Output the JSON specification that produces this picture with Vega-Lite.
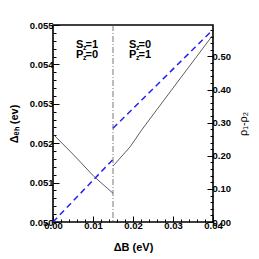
{
  "$schema": "https://vega.github.io/schema/vega-lite/v6.json",
  "width": 160,
  "height": 197,
  "autosize": "none",
  "padding": {"left": 53, "top": 25, "right": 46, "bottom": 37},
  "config": {
    "view": {"stroke": "#000", "strokeWidth": 1.6},
    "font": "Liberation Sans",
    "axis": {"grid": false, "domain": false, "labelFont": "Liberation Sans", "labelFontWeight": "bold", "labelFontSize": 9.5, "labelColor": "#000", "tickColor": "#000", "titleFont": "Liberation Sans", "titleFontWeight": "bold", "titleFontSize": 11, "titleColor": "#000", "labelFlush": false, "labelOverlap": false}
  },
  "datasets": {
    "eh": [
      {"x": 0, "y": 0.05223, "seg": "L"},
      {"x": 0.005, "y": 0.05172, "seg": "L"},
      {"x": 0.0103, "y": 0.05115, "seg": "L"},
      {"x": 0.015, "y": 0.05073, "seg": "L"},
      {"x": 0.015, "y": 0.05142, "seg": "R"},
      {"x": 0.0193, "y": 0.05191, "seg": "R"},
      {"x": 0.0222, "y": 0.05234, "seg": "R"},
      {"x": 0.03, "y": 0.0534, "seg": "R"},
      {"x": 0.04, "y": 0.05475, "seg": "R"}
    ],
    "rho": [
      {"x": 0, "r": 0, "seg": "L"},
      {"x": 0.015, "r": 0.189, "seg": "L"},
      {"x": 0.015, "r": 0.283, "seg": "R"},
      {"x": 0.04, "r": 0.581, "seg": "R"}
    ],
    "lab": [
      {"x": 0.00575, "y": 0.054505, "a": "S", "b": "=1"},
      {"x": 0.00575, "y": 0.05424, "a": "P", "b": "=0"},
      {"x": 0.019, "y": 0.054505, "a": "S", "b": "=0"},
      {"x": 0.019, "y": 0.05424, "a": "P", "b": "=1"}
    ],
    "vline": [{"x": 0.015}]
  },
  "layer": [
    {
      "data": {"name": "eh"},
      "mark": {"type": "line", "color": "#333", "strokeWidth": 0.8},
      "encoding": {
        "x": {"field": "x", "type": "quantitative", "scale": {"domain": [0, 0.04], "nice": false, "zero": false},
          "axis": {"title": "ΔB (eV)", "orient": "bottom", "labelOverlap": false, "labelBound": false, "values": [0,0.002,0.004,0.006,0.008,0.01,0.012,0.014,0.016,0.018,0.02,0.022,0.024,0.026,0.028,0.03,0.032,0.034,0.036,0.038,0.04],
            "labelExpr": "abs(datum.value*100 - round(datum.value*100)) < 0.001 ? format(datum.value, '.2f') : ''",
            "tickSize": {"condition": {"test": "abs(datum.value*100 - round(datum.value*100)) < 0.001", "value": -6}, "value": -3},
            "labelPadding": 4, "titlePadding": 9}},
        "y": {"field": "y", "type": "quantitative", "scale": {"domain": [0.05, 0.055], "nice": false, "zero": false},
          "axis": {"title": "Δₑₕ (ev)", "orient": "left", "labelOverlap": false, "values": [0.05,0.0502,0.0504,0.0506,0.0508,0.051,0.0512,0.0514,0.0516,0.0518,0.052,0.0522,0.0524,0.0526,0.0528,0.053,0.0532,0.0534,0.0536,0.0538,0.054,0.0542,0.0544,0.0546,0.0548,0.055],
            "labelExpr": "abs(datum.value*1000 - round(datum.value*1000)) < 0.001 ? format(datum.value, '.3f') : ''",
            "tickSize": {"condition": {"test": "abs(datum.value*1000 - round(datum.value*1000)) < 0.001", "value": -6}, "value": -3},
            "labelPadding": 6, "titlePadding": 10}},
        "detail": {"field": "seg"}
      }
    },
    {
      "data": {"name": "vline"},
      "mark": {"type": "rule", "color": "#555", "strokeWidth": 0.8, "strokeDash": [6, 2, 1, 2]},
      "encoding": {
        "x": {"field": "x", "type": "quantitative", "scale": {"domain": [0, 0.04], "nice": false, "zero": false}, "axis": null}
      }
    },
    {
      "data": {"name": "lab"},
      "mark": {"type": "text", "align": "left", "baseline": "middle", "fontSize": 11, "fontWeight": "bold", "font": "Liberation Sans", "color": "#000"},
      "encoding": {
        "x": {"field": "x", "type": "quantitative", "scale": {"domain": [0, 0.04], "nice": false, "zero": false}, "axis": null},
        "y": {"field": "y", "type": "quantitative", "scale": {"domain": [0.05, 0.055], "nice": false, "zero": false}, "axis": null},
        "text": {"field": "a"}
      }
    },
    {
      "data": {"name": "lab"},
      "mark": {"type": "text", "align": "left", "baseline": "middle", "fontSize": 7, "fontWeight": "bold", "font": "Liberation Sans", "color": "#000", "dx": 7, "dy": 3.5},
      "encoding": {
        "x": {"field": "x", "type": "quantitative", "scale": {"domain": [0, 0.04], "nice": false, "zero": false}, "axis": null},
        "y": {"field": "y", "type": "quantitative", "scale": {"domain": [0.05, 0.055], "nice": false, "zero": false}, "axis": null},
        "text": {"value": "z"}
      }
    },
    {
      "data": {"name": "lab"},
      "mark": {"type": "text", "align": "left", "baseline": "middle", "fontSize": 11, "fontWeight": "bold", "font": "Liberation Sans", "color": "#000", "dx": 9.5},
      "encoding": {
        "x": {"field": "x", "type": "quantitative", "scale": {"domain": [0, 0.04], "nice": false, "zero": false}, "axis": null},
        "y": {"field": "y", "type": "quantitative", "scale": {"domain": [0.05, 0.055], "nice": false, "zero": false}, "axis": null},
        "text": {"field": "b"}
      }
    },
    {
      "data": {"name": "rho"},
      "mark": {"type": "line", "color": "#2222ee", "strokeWidth": 1.5, "strokeDash": [6, 4]},
      "encoding": {
        "x": {"field": "x", "type": "quantitative", "scale": {"domain": [0, 0.04], "nice": false, "zero": false}, "axis": null},
        "y": {"field": "r", "type": "quantitative", "scale": {"domain": [0, 0.595], "nice": false, "zero": false},
          "axis": {"title": "ρ₁-ρ₂", "orient": "right", "titleAngle": 270, "labelOverlap": false, "values": [0,0.02,0.04,0.06,0.08,0.1,0.12,0.14,0.16,0.18,0.2,0.22,0.24,0.26,0.28,0.3,0.32,0.34,0.36,0.38,0.4,0.42,0.44,0.46,0.48,0.5,0.52,0.54,0.56,0.58],
            "labelExpr": "abs(datum.value*10 - round(datum.value*10)) < 0.001 ? format(datum.value, '.2f') : ''",
            "tickSize": {"condition": {"test": "abs(datum.value*10 - round(datum.value*10)) < 0.001", "value": -6}, "value": -3},
            "labelPadding": 5, "titlePadding": 18, "titleFontWeight": "normal"}},
        "detail": {"field": "seg"}
      }
    }
  ],
  "resolve": {"scale": {"y": "independent"}, "axis": {"x": "independent"}}
}
